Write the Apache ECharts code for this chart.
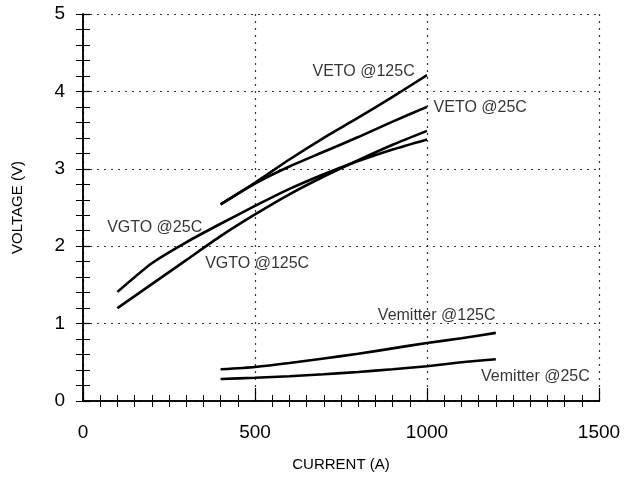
<!DOCTYPE html>
<html>
<head>
<meta charset="utf-8">
<script src="https://cdn.jsdelivr.net/npm/echarts@6/dist/echarts.min.js"></script>
<style>
html,body{margin:0;padding:0;background:#fff;}
#chart{width:632px;height:478px;}
</style>
</head>
<body>
<div id="chart"></div>
<script>
// Data
const vgtoCurrent = [100, 200, 300, 400, 500, 600, 700, 800, 900, 1000];
const vgto25 = [1.41, 1.78, 2.05, 2.29, 2.52, 2.74, 2.93, 3.10, 3.25, 3.38];
const vgto125 = [1.20, 1.51, 1.82, 2.13, 2.41, 2.67, 2.90, 3.11, 3.31, 3.49];

const vetoCurrent = [400, 500, 600, 700, 800, 900, 1000];
const veto125 = [2.54, 2.82, 3.12, 3.40, 3.66, 3.93, 4.21];
const veto25 = [2.54, 2.81, 3.03, 3.22, 3.41, 3.61, 3.80];

const vemCurrent = [400, 500, 600, 700, 800, 900, 1000, 1100, 1200];
const vem125 = [0.41, 0.44, 0.49, 0.55, 0.61, 0.68, 0.75, 0.81, 0.88];
const vem25 = [0.285, 0.30, 0.32, 0.345, 0.375, 0.41, 0.45, 0.50, 0.54];

const xTicks = [0, 500, 1000, 1500];
const yTicks = [0, 1, 2, 3, 4, 5];

const labelTexts = ['VETO @125C', 'VETO @25C', 'VGTO @25C', 'VGTO @125C', 'Vemitter @125C', 'Vemitter @25C'];
const labelAtCurrent = [667, 1019, 70, 355, 857, 1157];
const labelAtVoltage = [4.26, 3.79, 2.24, 1.77, 1.10, 0.32];

const pairs = (xs, ys) => xs.map((x, i) => [x, ys[i]]);
const FONT = '"Liberation Sans", Arial, sans-serif';

function lineSeries(name, xs, ys) {
  return {
    name: name, type: 'line', data: pairs(xs, ys), smooth: 0.2,
    symbol: 'none', lineStyle: { color: '#000', width: 2.6 }, z: 3
  };
}

const chart = echarts.init(document.getElementById('chart'), null, { renderer: 'canvas' });

const baseAxisLine = { show: true, lineStyle: { color: '#000', width: 1.5 } };
const minorStyle = { color: '#000', width: 1 };

chart.setOption({
  animation: false,
  backgroundColor: '#fff',
  grid: { left: 83, right: 33, top: 14, bottom: 77, containLabel: false },
  xAxis: [{
    type: 'value', min: xTicks[0], max: xTicks[xTicks.length - 1], interval: 500,
    name: 'CURRENT (A)', nameLocation: 'middle', nameGap: 56,
    nameTextStyle: { color: '#000', fontSize: 15, fontFamily: FONT },
    axisLine: baseAxisLine,
    axisTick: { show: true, inside: true, length: 13, lineStyle: { color: '#000', width: 1.2 } },
    minorTick: { show: true, splitNumber: 10, length: 6, lineStyle: minorStyle },
    axisLabel: { color: '#000', fontSize: 19, fontFamily: FONT, margin: 22, formatter: v => String(v) },
    splitLine: { show: true, lineStyle: { color: '#333', type: [2, 5], width: 1.2 } }
  }, {
    type: 'value', position: 'top', min: 0, max: 1500, interval: 500,
    axisLine: baseAxisLine,
    axisTick: { show: true, inside: true, length: 1, lineStyle: { color: '#000', width: 1 } },
    minorTick: { show: true, splitNumber: 10, length: 6, lineStyle: minorStyle },
    axisLabel: { show: false }, splitLine: { show: false }
  }],
  yAxis: [{
    type: 'value', min: yTicks[0], max: yTicks[yTicks.length - 1], interval: 1,
    name: 'VOLTAGE (V)', nameLocation: 'middle', nameGap: 58, nameRotate: 90,
    nameTextStyle: { color: '#000', fontSize: 15, fontFamily: FONT },
    axisLine: baseAxisLine,
    axisTick: { show: true, inside: true, length: 7, lineStyle: { color: '#000', width: 1.2 } },
    minorTick: { show: true, splitNumber: 5, length: 7, lineStyle: minorStyle },
    axisLabel: { color: '#000', fontSize: 19, fontFamily: FONT, margin: 18 },
    splitLine: { show: true, lineStyle: { color: '#333', type: [2, 5], width: 1.2 } }
  }, {
    type: 'value', position: 'right', min: 0, max: 5, interval: 1,
    axisLine: baseAxisLine,
    axisTick: { show: true, inside: true, length: 7, lineStyle: { color: '#000', width: 1 } },
    minorTick: { show: true, splitNumber: 5, length: 7, lineStyle: minorStyle },
    axisLabel: { show: false }, splitLine: { show: false }
  }],
  series: [
    lineSeries('VGTO @25C', vgtoCurrent, vgto25),
    lineSeries('VGTO @125C', vgtoCurrent, vgto125),
    lineSeries('VETO @125C', vetoCurrent, veto125),
    lineSeries('VETO @25C', vetoCurrent, veto25),
    lineSeries('Vemitter @125C', vemCurrent, vem125),
    lineSeries('Vemitter @25C', vemCurrent, vem25),
    {
      name: 'labels', type: 'scatter', symbolSize: 0.1, silent: true, z: 4,
      data: labelTexts.map((t, i) => ({ value: [labelAtCurrent[i], labelAtVoltage[i]], name: t })),
      label: {
        show: true, position: 'right', distance: 0, formatter: p => p.name,
        color: '#000', fontSize: 16, fontFamily: FONT
      }
    }
  ]
});
</script>
</body>
</html>
